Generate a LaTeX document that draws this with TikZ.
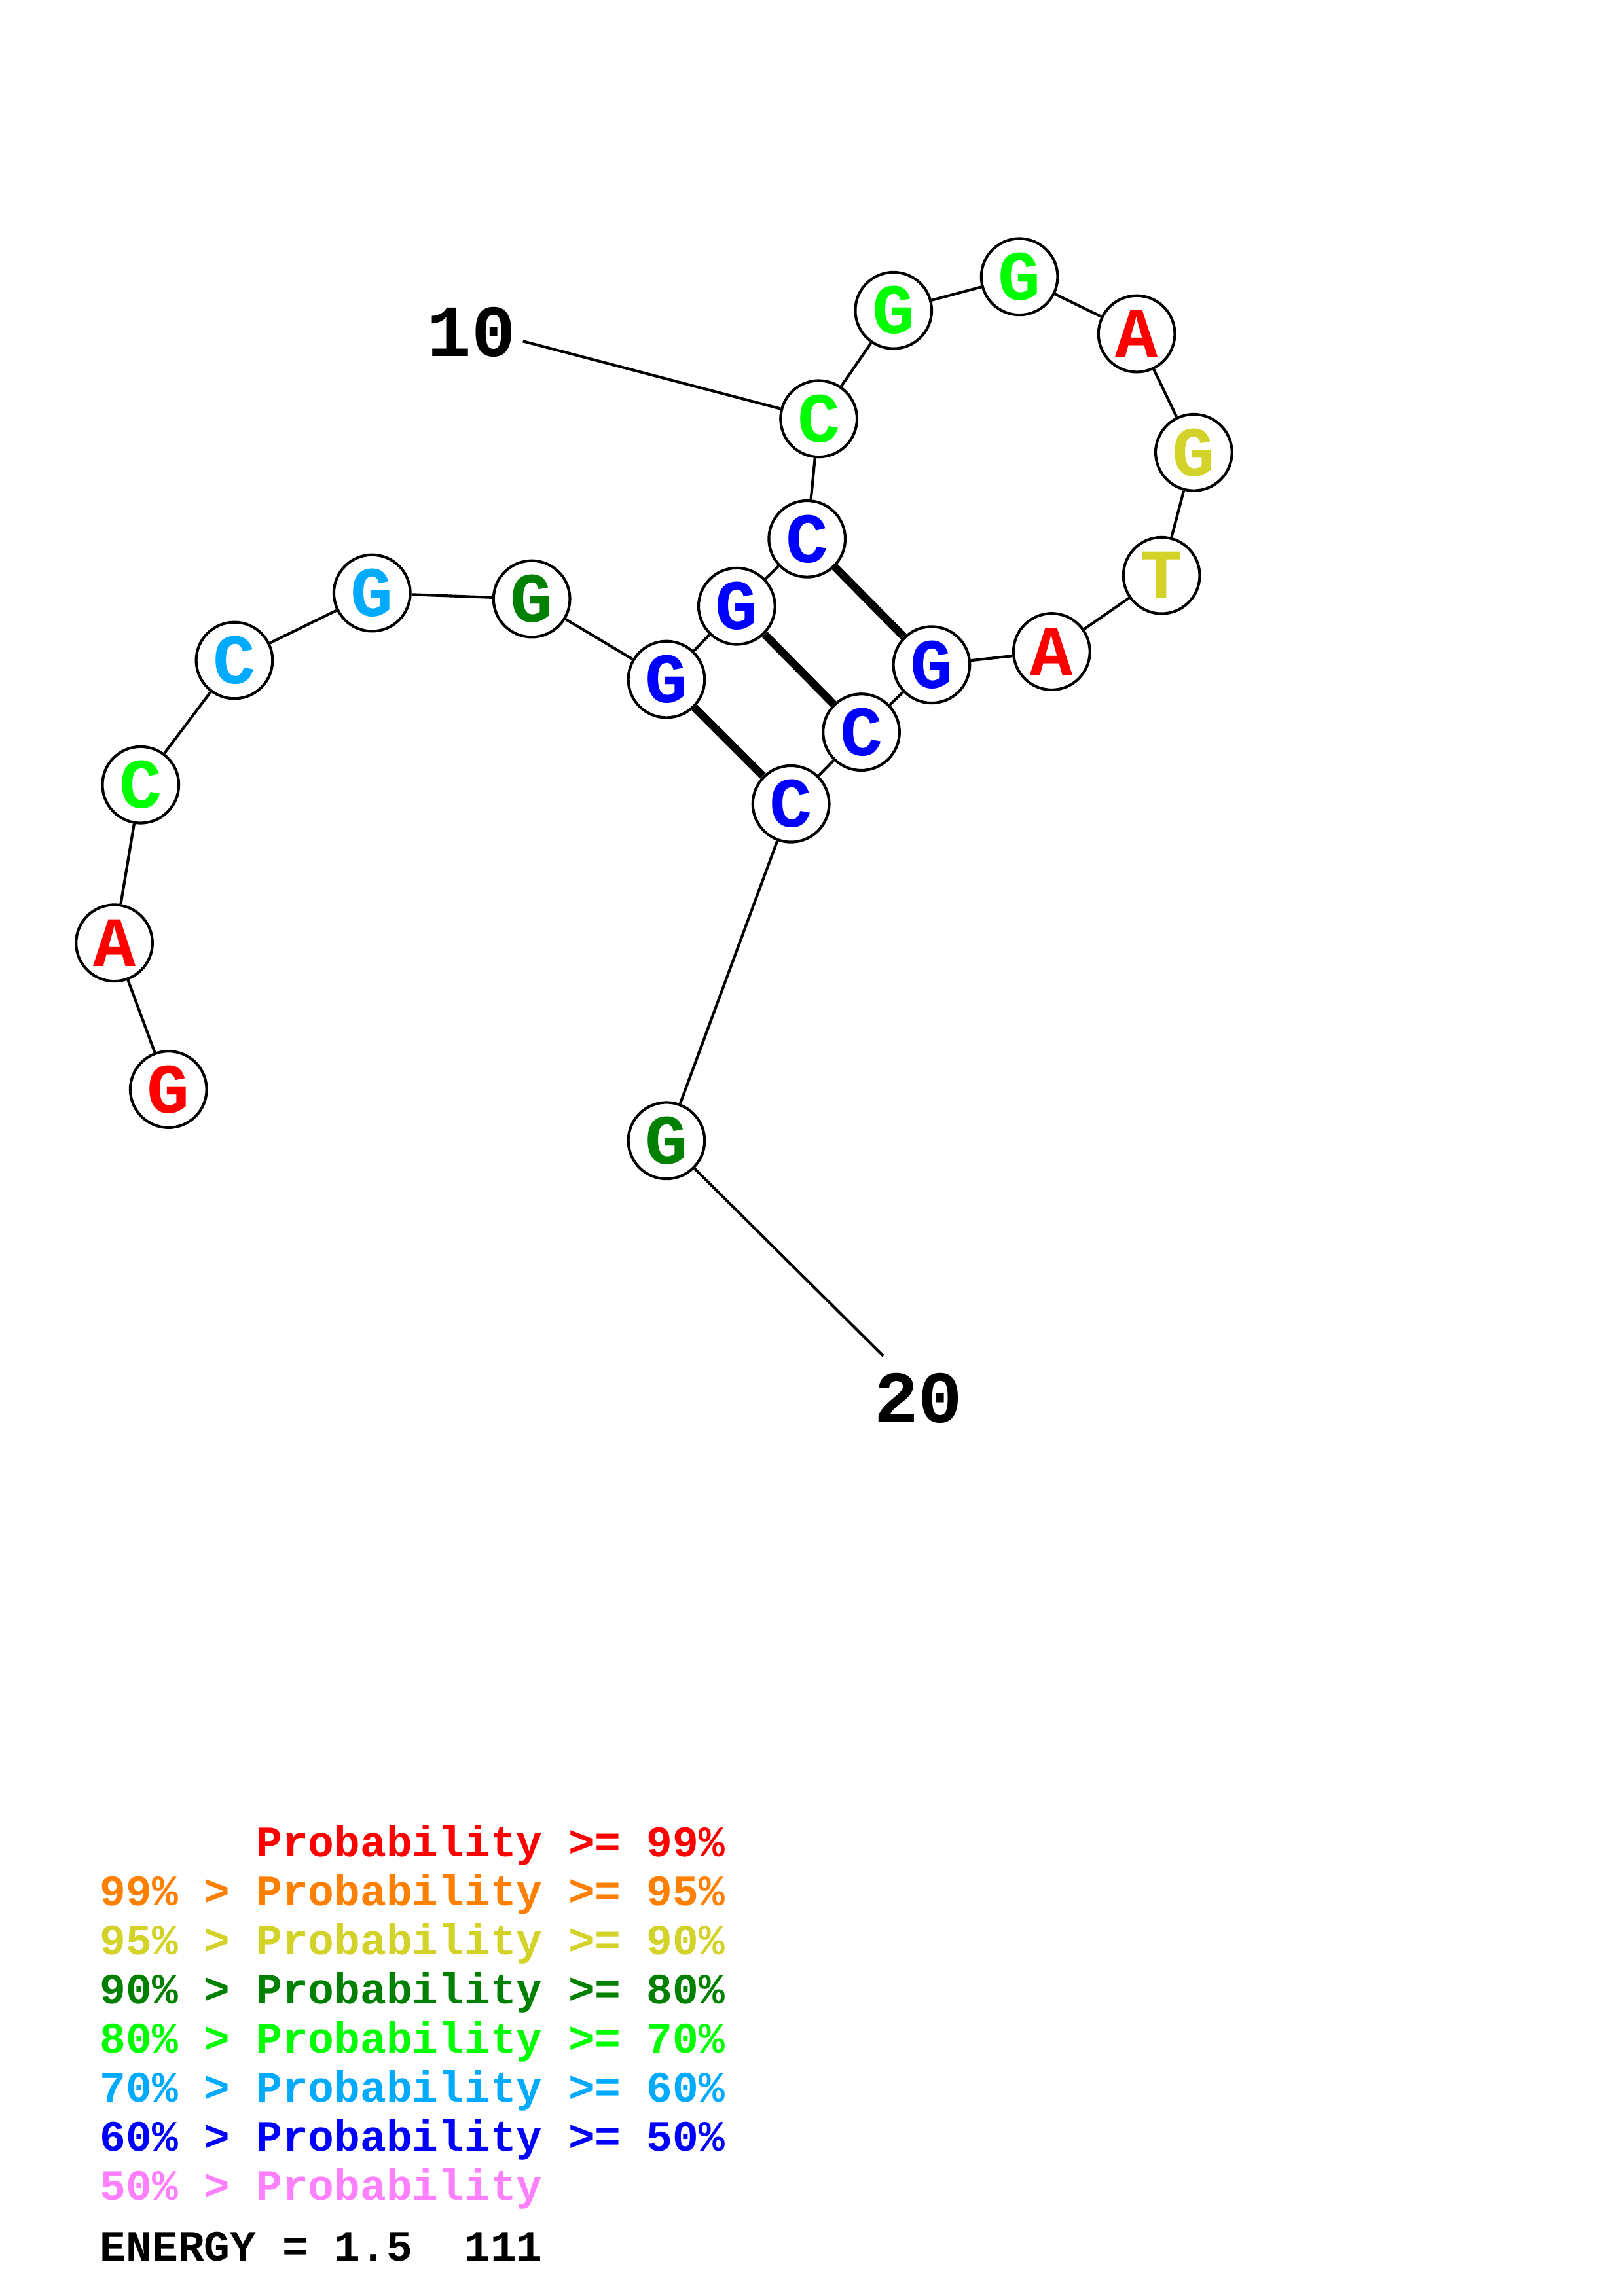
\documentclass[tikz,border=0pt]{standalone}
\usepackage{fontspec}
\usepackage{tikz}
\newfontfamily\monob{Liberation Mono}

\definecolor{pr99}{RGB}{255,0,0}
\definecolor{pr95}{RGB}{255,128,0}
\definecolor{pr90}{RGB}{210,210,40}
\definecolor{pr80}{RGB}{0,128,0}
\definecolor{pr70}{RGB}{0,255,0}
\definecolor{pr60}{RGB}{0,170,255}
\definecolor{pr50}{RGB}{0,0,255}
\definecolor{prlow}{RGB}{255,128,255}

\begin{document}
\begin{tikzpicture}[x=0.537pt,y=-0.537pt,
	nuc/.style={circle,draw,line width=1pt,fill=white,minimum size=28pt,inner sep=0pt,font=\monob\bfseries\fontsize{26}{26}\selectfont},
	bond/.style={line width=1pt},
	pair/.style={line width=2.9pt},
	numlab/.style={inner sep=0pt,font=\monob\bfseries\fontsize{27}{27}\selectfont},
	leg/.style={anchor=base west,inner sep=0pt,font=\monob\bfseries\fontsize{15.9}{15.9}\selectfont}]
	\useasboundingbox (0,0) rectangle (1108,1568);

	%draw the bases
	\node[nuc, text=pr99] (n1) at (115,744) {G};
	\node[nuc, text=pr99] (n2) at (78,644) {A};
	\node[nuc, text=pr70] (n3) at (96,536) {C};
	\node[nuc, text=pr60] (n4) at (160,451) {C};
	\node[nuc, text=pr60] (n5) at (254,405) {G};
	\node[nuc, text=pr80] (n6) at (363,409) {G};
	\node[nuc, text=pr50] (n7) at (455,464) {G};
	\node[nuc, text=pr50] (n8) at (503,414) {G};
	\node[nuc, text=pr50] (n9) at (551,368) {C};
	\node[nuc, text=pr70] (n10) at (559,286) {C};
	\node[nuc, text=pr70] (n11) at (610,212) {G};
	\node[nuc, text=pr70] (n12) at (696,189) {G};
	\node[nuc, text=pr99] (n13) at (776,228) {A};
	\node[nuc, text=pr90] (n14) at (815,309) {G};
	\node[nuc, text=pr90] (n15) at (793,393) {T};
	\node[nuc, text=pr99] (n16) at (718,445) {A};
	\node[nuc, text=pr50] (n17) at (636,454) {G};
	\node[nuc, text=pr50] (n18) at (588,500) {C};
	\node[nuc, text=pr50] (n19) at (540,549) {C};
	\node[nuc, text=pr80] (n20) at (455,779) {G};

	%draw the backbone
	\draw[bond] (n1) -- (n2) -- (n3) -- (n4) -- (n5) -- (n6) -- (n7) -- (n8) -- (n9) -- (n10)
		-- (n11) -- (n12) -- (n13) -- (n14) -- (n15) -- (n16) -- (n17) -- (n18) -- (n19) -- (n20);

	%draw the base pairs
	\draw[pair] (n7) -- (n19);
	\draw[pair] (n8) -- (n18);
	\draw[pair] (n9) -- (n17);

	%number the bases
	\node[numlab] (lab10) at (322,227) {10};
	\coordinate (tick10) at (357,233);
	\draw[bond] (tick10) -- (n10);
	\node[numlab] (lab20) at (627,955) {20};
	\coordinate (tick20) at (603,926);
	\draw[bond] (n20) -- (tick20);

	%legend
	\node[leg, text=pr99] (l99) at (68,1268) {\hphantom{99\%\ >\ }Probability >= 99\%};
	\node[leg, text=pr95] (l95) at (68,1301.5) {99\% > Probability >= 95\%};
	\node[leg, text=pr90] (l90) at (68,1335) {95\% > Probability >= 90\%};
	\node[leg, text=pr80] (l80) at (68,1368.5) {90\% > Probability >= 80\%};
	\node[leg, text=pr70] (l70) at (68,1402) {80\% > Probability >= 70\%};
	\node[leg, text=pr60] (l60) at (68,1435.5) {70\% > Probability >= 60\%};
	\node[leg, text=pr50] (l50) at (68,1469) {60\% > Probability >= 50\%};
	\node[leg, text=prlow] (llow) at (68,1502.5) {50\% > Probability};
	\node[leg] (energy) at (68,1544) {ENERGY = 1.5\ \ 111};
\end{tikzpicture}
\end{document}
